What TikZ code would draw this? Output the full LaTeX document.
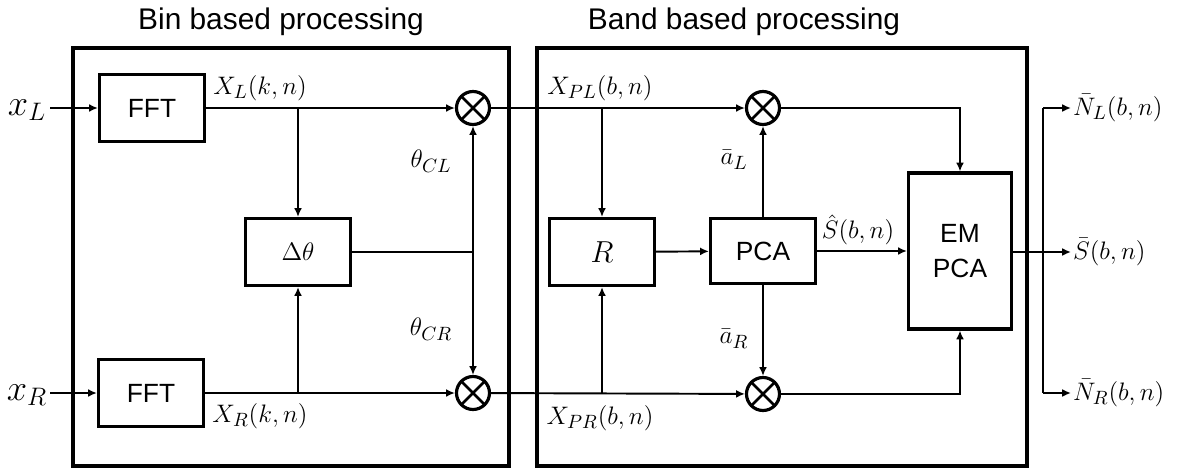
\documentclass[tikz,border=0pt]{standalone}
\usepackage{fontspec}
\setsansfont{Liberation Sans}
\usetikzlibrary{arrows.meta}

\tikzset{
	blk/.style={draw, line width=1.8pt, minimum width=2.1cm, minimum height=1.34cm, inner sep=0pt, font=\sffamily\fontsize{15}{20}\selectfont},
	mult/.style={circle, draw, line width=1.8pt, minimum size=0.66cm, inner sep=0pt,
		path picture={\draw[line width=1.6pt] (path picture bounding box.north west) -- (path picture bounding box.south east)
			(path picture bounding box.north east) -- (path picture bounding box.south west);}},
	lab/.style={font=\fontsize{15}{18}\selectfont, inner sep=1pt},
	conn/.style={line width=1.1pt, ->, >={Latex[length=5pt,width=4.5pt]}},
	wire/.style={line width=1.1pt}
}

\begin{document}
\begin{tikzpicture}[x=0.02cm, y=-0.02cm]
		
		\useasboundingbox (0,0) rectangle (1178,474);
		
		% two processing stages
		\draw[line width=1.8pt] (73,48) rectangle (509,466);
		\draw[line width=1.8pt] (537,48) rectangle (1027,466);
		\node[font=\sffamily\fontsize{17}{20}\selectfont] (tbin) at (281,22) {Bin based processing};
		\node[font=\sffamily\fontsize{17}{20}\selectfont] (tband) at (744,22) {Band based processing};
		
		
		% bin part
		\node[font=\fontsize{21}{24}\selectfont] (xL) at (27,110) {$x_L$};
		\node[font=\fontsize{21}{24}\selectfont] (xR) at (27,395) {$x_R$};
		\coordinate (inL) at (50,108);
		\coordinate (inR) at (50,393);
		
		\node[blk] (fftL) at (152,108) {FFT};
		\node[blk] (fftR) at (151,393) {FFT};
		\node[blk, font=\fontsize{15}{18}\selectfont] (dth) at (298,252) {$\Delta\theta$};
		
		\node[mult] (m1) at (473,108) {};
		\node[mult] (m2) at (473,393) {};
		
		\draw[conn] (inL) -- (fftL);
		\draw[conn] (inR) -- (fftR);
		\draw[conn] (fftL) -- (m1);
		\draw[conn] (fftR) -- (m2);
		\draw[conn] (dth.north |- fftL) -- (dth.north);
		\draw[conn] (dth.south |- fftR) -- (dth.south);
		
		\coordinate (jth) at (dth.east -| m1);
		\draw[wire] (dth.east) -- (jth);
		\draw[conn] (jth) -- (m1.south);
		\draw[conn] (jth) -- (m2.north);
		
		\node[lab] (lXL) at (260,88) {$X_L(k,n)$};
		\node[lab] (lXR) at (260,416) {$X_R(k,n)$};
		\node[lab] (lthL) at (431,161) {$\theta_{CL}$};
		\node[lab] (lthR) at (431,329) {$\theta_{CR}$};
		
		
		% band part
		\node[blk, font=\fontsize{19}{22}\selectfont] (R) at (602,252) {$R$};
		\node[blk, minimum height=1.3cm] (pca) at (763,251) {PCA};
		\node[blk, align=center, minimum width=2.06cm, minimum height=3.12cm] (em) at (960,251) {EM\\PCA};
		
		\node[mult] (m3) at (763,108) {};
		\node[mult] (m4) at (763,394) {};
		
		\draw[conn] (m1) -- (m3);
		\draw[conn] (m2) -- (m4);
		\draw[conn] (R.north |- m1) -- (R.north);
		\draw[conn] (R.south |- m2) -- (R.south);
		\draw[conn] (R) -- (pca);
		\draw[conn] (pca.north) -- (m3.south);
		\draw[conn] (pca.south) -- (m4.north);
		\draw[conn] (pca) -- (em.west |- pca);
		\draw[conn] (m3.east) -| (em.north);
		\draw[conn] (m4.east) -| (em.south);
		
		\node[lab] (lXPL) at (600,88) {$X_{PL}(b,n)$};
		\node[lab] (lXPR) at (600,418) {$X_{PR}(b,n)$};
		\node[lab] (laL) at (734,160) {$\bar{a}_L$};
		\node[lab] (laR) at (734,339) {$\bar{a}_R$};
		\node[lab] (lS) at (858,230) {$\hat{S}(b,n)$};
		
		
		% outputs
		\node[lab, anchor=west] (oNL) at (1071,108) {$\bar{N}_L(b,n)$};
		\node[lab, anchor=west] (oS) at (1071,252) {$\bar{S}(b,n)$};
		\node[lab, anchor=west] (oNR) at (1071,393) {$\bar{N}_R(b,n)$};
		
		\coordinate (jo) at (1043,252);
		\draw[conn] (em.east |- oS) -- (oS.west);
		\draw[wire] (jo |- oNL) -- (jo |- oNR);
		\draw[conn] (jo |- oNL) -- (oNL.west);
		\draw[conn] (jo |- oNR) -- (oNR.west);
		
	\end{tikzpicture}
\end{document}
